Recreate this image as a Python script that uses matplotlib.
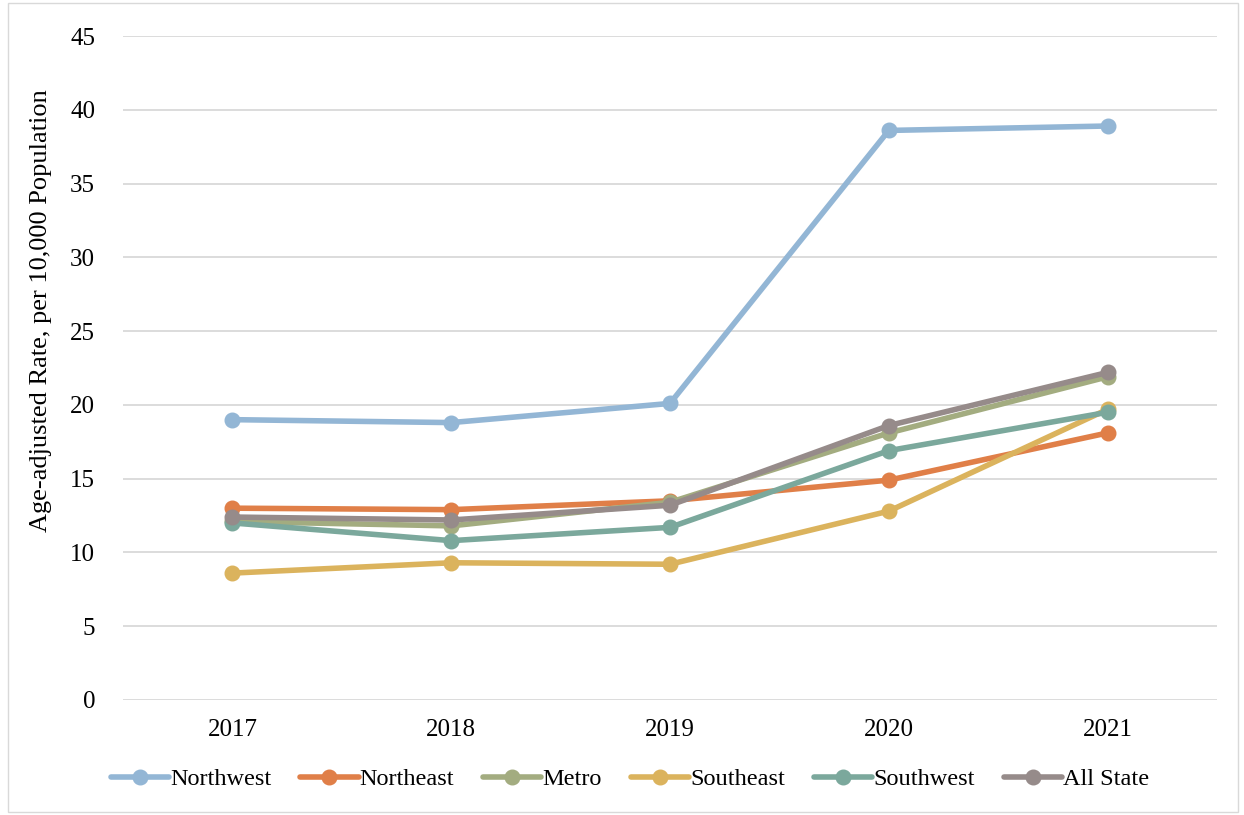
import matplotlib.pyplot as plt
from matplotlib.patches import Rectangle

# datos
years = ["2017", "2018", "2019", "2020", "2021"]
northwest = [19.0, 18.8, 20.1, 38.6, 38.9]
northeast = [13.0, 12.9, 13.5, 14.9, 18.1]
metro = [12.1, 11.8, 13.4, 18.1, 21.9]
southeast = [8.6, 9.3, 9.2, 12.8, 19.7]
southwest = [12.0, 10.8, 11.7, 16.9, 19.5]
all_state = [12.4, 12.2, 13.2, 18.6, 22.2]

series = [
    ("Northwest", northwest, "#93B6D5"),
    ("Northeast", northeast, "#E07F48"),
    ("Metro", metro, "#A3AC80"),
    ("Southeast", southeast, "#DBB35D"),
    ("Southwest", southwest, "#7BA89C"),
    ("All State", all_state, "#968B8A"),
]

plt.rcParams['font.family'] = ['Liberation Serif', 'DejaVu Serif']

fig = plt.figure(figsize=(12.44, 8.15), dpi=100)
ax = fig.add_axes([123 / 1244, 1 - 700 / 815, (1217 - 123) / 1244, (700 - 36) / 815])

x = list(range(len(years)))
for name, vals, col in series:
    ax.plot(x, vals, color=col, linewidth=4.0, marker='o', markersize=10.5,
            label=name, solid_capstyle='round')

ax.set_xlim(-0.5, len(years) - 0.5)
ax.set_ylim(0, 45)
ax.set_yticks(range(0, 46, 5))
ax.set_xticks(x)
ax.set_xticklabels(years)
ax.tick_params(axis='both', length=0, labelsize=18, colors='black')
ax.tick_params(axis='x', pad=14)
ax.tick_params(axis='y', pad=20)
ax.grid(axis='y', color='#D9D9D9', linewidth=1.3)
ax.set_axisbelow(True)
for s in ax.spines.values():
    s.set_visible(False)

ax.set_ylabel("Age-adjusted Rate, per 10,000 Population", fontsize=19)
ax.yaxis.set_label_coords(-0.065, 0.586)

ax.legend(loc='center', bbox_to_anchor=(0.4634, -0.119), ncol=6, frameon=False,
          fontsize=17.5, handlelength=2.4, handletextpad=0.05, columnspacing=1.18)

# borde del grafico
fig.patches.append(Rectangle((8 / 1244, 3 / 815), 1230 / 1244, 809 / 815,
                             transform=fig.transFigure, fill=False,
                             edgecolor='#D9D9D9', linewidth=1.0))

fig.savefig("out.png", dpi=100)
